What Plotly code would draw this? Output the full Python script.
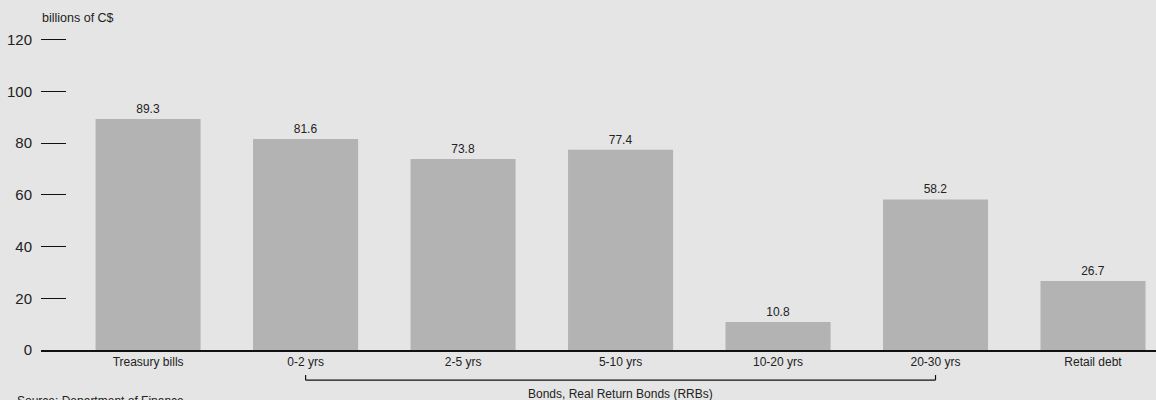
import plotly.graph_objects as go

categories = ["Treasury bills", "0-2 yrs", "2-5 yrs", "5-10 yrs", "10-20 yrs", "20-30 yrs", "Retail debt"]
values = [89.3, 81.6, 73.8, 77.4, 10.8, 58.2, 26.7]
value_labels = ["89.3", "81.6", "73.8", "77.4", "10.8", "58.2", "26.7"]
y_ticks = [0, 20, 40, 60, 80, 100, 120]

FONT = "Arial, Liberation Sans, sans-serif"
BG = "#e5e5e5"

PLOT_H = 310 * 121 / 120  # pixels for range [0, 121]
TOP = 350 - PLOT_H

fig = go.Figure()
fig.add_trace(go.Bar(
    x=list(range(len(categories))),
    y=values,
    text=value_labels,
    textposition="outside",
    textfont=dict(family=FONT, size=12, color="#222"),
    marker=dict(color="#b3b3b3", line=dict(width=0)),
    cliponaxis=False,
    hoverinfo="skip",
))

fig.update_layout(
    width=1156, height=400,
    margin=dict(l=41, r=0, t=TOP, b=50, pad=0),
    paper_bgcolor=BG, plot_bgcolor=BG,
    bargap=0.333,
    showlegend=False,
    font=dict(family=FONT, color="#222"),
    xaxis=dict(
        range=[-0.68, 6.40],
        tickmode="array",
        tickvals=list(range(len(categories))),
        ticktext=categories,
        tickfont=dict(size=12, color="#222"),
        showgrid=False, zeroline=False,
        showline=True, linecolor="#111", linewidth=1.5,
        ticks="", fixedrange=True,
    ),
    yaxis=dict(
        range=[0, 121],
        tickmode="array",
        tickvals=y_ticks,
        ticks="inside", ticklen=25, tickwidth=1.2, tickcolor="#111",
        tickfont=dict(size=15, color="#222"),
        ticklabelstandoff=8,
        showgrid=False, zeroline=False, showline=False,
        fixedrange=True,
    ),
)

# Bracket under bond categories
yb_top = -25 / PLOT_H
yb_bot = -30 / PLOT_H
fig.add_shape(type="line", xref="x", yref="paper", x0=1, x1=5, y0=yb_bot, y1=yb_bot,
              line=dict(color="#111", width=1.2))
fig.add_shape(type="line", xref="x", yref="paper", x0=1, x1=1, y0=yb_top, y1=yb_bot,
              line=dict(color="#111", width=1.2))
fig.add_shape(type="line", xref="x", yref="paper", x0=5, x1=5, y0=yb_top, y1=yb_bot,
              line=dict(color="#111", width=1.2))

fig.add_annotation(text="Bonds, Real Return Bonds (RRBs)", xref="x", yref="paper",
                   x=3, y=-44 / PLOT_H, showarrow=False, xanchor="center", yanchor="middle",
                   font=dict(size=12, color="#222"))
fig.add_annotation(text="billions of C$", xref="paper", yref="paper",
                   x=-1 / 1115, y=(350 - 18) / PLOT_H, showarrow=False, xanchor="left", yanchor="middle",
                   font=dict(size=12.5, color="#222"))
fig.add_annotation(text="Source: Department of Finance", xref="paper", yref="paper",
                   x=-26 / 1115, y=-42 / PLOT_H, showarrow=False, xanchor="left", yanchor="top",
                   font=dict(size=12, color="#222"))

fig.write_html("out.html", config={"displayModeBar": False},
               post_script="document.body.style.margin='0';document.body.style.overflow='hidden';")
